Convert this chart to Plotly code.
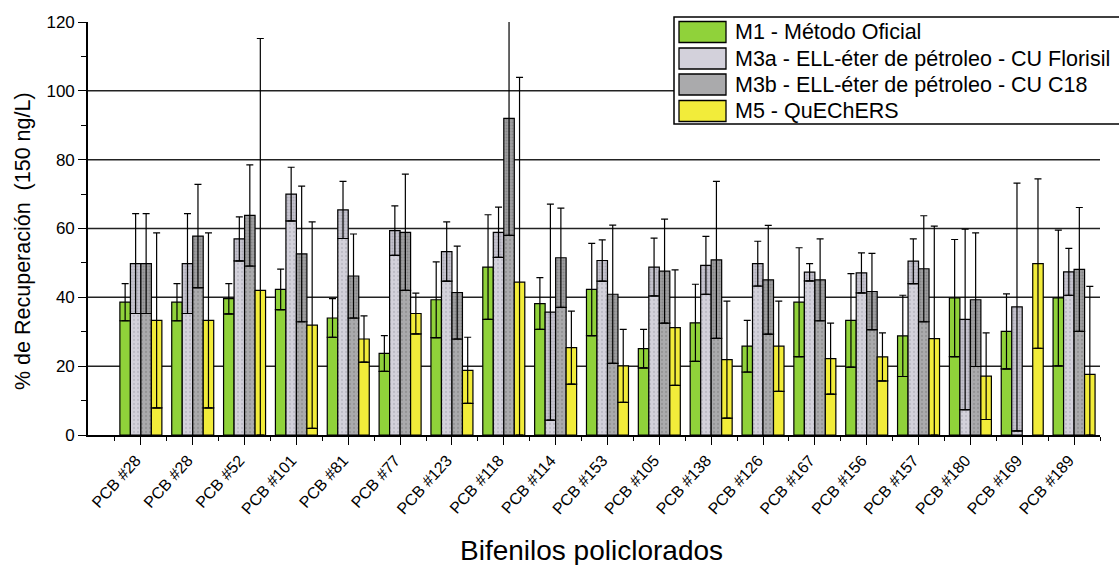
import plotly.graph_objects as go

# ---------------- data ----------------
categories = ["PCB #28", "PCB #28", "PCB #52", "PCB #101", "PCB #81", "PCB #77",
              "PCB #123", "PCB #118", "PCB #114", "PCB #153", "PCB #105", "PCB #138",
              "PCB #126", "PCB #167", "PCB #156", "PCB #157", "PCB #180", "PCB #169",
              "PCB #189"]

m1 = [38.6, 38.6, 39.6, 42.3, 34.0, 23.7, 39.3, 48.8, 38.2, 42.3, 25.1, 32.6,
      25.8, 38.6, 33.3, 28.8, 39.8, 30.1, 39.8]
m1_err = [5.4, 5.4, 4.4, 5.9, 5.6, 5.2, 11.0, 15.2, 7.5, 13.4, 5.6, 11.2,
          7.5, 15.8, 13.6, 11.8, 17.0, 10.9, 19.7]

m3a = [49.8, 49.8, 57.0, 70.0, 65.4, 59.4, 53.3, 58.9, 35.7, 50.7, 48.8, 49.3,
       49.8, 47.3, 47.1, 50.5, 33.6, 37.2, 47.4]
m3a_err = [14.5, 14.5, 6.4, 7.8, 8.3, 7.2, 8.6, 7.3, 31.4, 6.0, 8.4, 8.4,
           6.5, 2.5, 5.8, 6.5, 26.2, 36.0, 6.8]

m3b = [49.8, 57.8, 63.8, 52.6, 46.2, 58.9, 41.4, 92.0, 51.5, 40.9, 47.6, 50.9,
       45.1, 45.1, 41.7, 48.3, 39.3, None, 48.1]
m3b_err = [14.5, 15.0, 14.7, 19.7, 12.2, 16.9, 13.5, 34.0, 14.4, 20.1, 15.1, 22.8,
           15.8, 11.9, 11.1, 15.4, 19.4, None, 18.0]

m5 = [33.3, 33.3, 42.0, 31.9, 27.9, 35.3, 18.8, 44.4, 25.4, 20.1, 31.2, 21.9,
      25.8, 22.2, 22.7, 28.0, 17.1, 49.8, 17.6]
m5_err = [25.4, 25.4, 73.2, 30.0, 6.7, 5.9, 9.6, 59.5, 10.6, 10.6, 16.8, 17.0,
          13.1, 10.3, 7.0, 32.7, 12.6, 24.6, 25.6]

series_names = ["M1 - Método Oficial",
                "M3a - ELL-éter de pétroleo - CU Florisil",
                "M3b - ELL-éter de pétroleo - CU C18",
                "M5 - QuEChERS"]

y_ticks = [0, 20, 40, 60, 80, 100, 120]
grid_vals = [20, 40, 60, 80, 100]

x_title = "Bifenilos policlorados"
y_title = "% de Recuperación \u00a0(150 ng/L)"

# ---------------- styling ----------------
FONT = "Arial, Liberation Sans, sans-serif"
W, H = 1119, 565
ML, MR, MT, MB = 88, 19, 22, 130

styles = [
    dict(color="#90D23A", pattern=None, top_pattern=None),
    dict(color="#D3D1DB",
         pattern=dict(shape=".", fgcolor="#A6A5B0", bgcolor="#D3D1DB", size=4, solidity=0.25),
         top_pattern=dict(shape=".", fgcolor="#8E8D98", bgcolor="#C6C4CF", size=3, solidity=0.35)),
    dict(color="#AAAAAC",
         pattern=dict(shape=".", fgcolor="#7E7E80", bgcolor="#AAAAAC", size=4, solidity=0.25),
         top_pattern=dict(shape=".", fgcolor="#6A6A6C", bgcolor="#9E9EA0", size=3, solidity=0.35)),
    dict(color="#F2EC3A", pattern=None, top_pattern=None),
]

positions = list(range(len(categories)))
values = [m1, m3a, m3b, m5]
errors = [m1_err, m3a_err, m3b_err, m5_err]

fig = go.Figure()

for k, (vals, errs, name, st) in enumerate(zip(values, errors, series_names, styles)):
    lower = [None if v is None else max(v - e, 0.0) for v, e in zip(vals, errs)]
    upper = [None if v is None else v - lo for v, lo in zip(vals, lower)]
    line = dict(color="black", width=1.2)
    mk_low = dict(color=st["color"], line=line)
    mk_top = dict(color=st["color"], line=line)
    if st["pattern"]:
        mk_low["pattern"] = st["pattern"]
        mk_top["pattern"] = st["top_pattern"]
    fig.add_trace(go.Bar(
        x=positions, y=lower, offsetgroup=str(k), marker=mk_low,
        name=name, showlegend=False, hoverinfo="skip"))
    fig.add_trace(go.Bar(
        x=positions, y=upper, base=lower, offsetgroup=str(k), marker=mk_top,
        name=name, showlegend=False,
        error_y=dict(type="data", array=errs, arrayminus=upper, symmetric=False,
                     color="black", thickness=1.2, width=3.5)))

fig.update_layout(
    width=W, height=H,
    margin=dict(l=ML, r=MR, t=MT, b=MB),
    paper_bgcolor="white", plot_bgcolor="white",
    barmode="group", bargap=0.19, bargroupgap=0.0,
    font=dict(family=FONT, color="black"),
    showlegend=False,
)

fig.update_xaxes(
    range=[-1.02, 18.5],
    tickmode="array", tickvals=positions, ticktext=categories,
    tickangle=-48, tickfont=dict(size=16, family=FONT, color="black"),
    ticklabelshift=-5,
    ticks="outside", ticklen=8, tickwidth=1.3, tickcolor="black",
    minor=dict(tickmode="linear", tick0=0.5, dtick=1, ticks="outside",
               ticklen=4, tickwidth=1.3, tickcolor="black"),
    showline=True, linecolor="black", linewidth=1.6,
    showgrid=False, zeroline=False, automargin=False,
)

fig.update_yaxes(
    range=[0, 120], tickmode="array", tickvals=y_ticks,
    tickfont=dict(size=17, family=FONT, color="black"),
    ticks="outside", ticklen=8, tickwidth=1.3, tickcolor="black",
    minor=dict(tickmode="linear", tick0=0, dtick=10, ticks="outside",
               ticklen=5, tickwidth=1.3, tickcolor="black"),
    showline=True, linecolor="black", linewidth=1.6,
    showgrid=False, zeroline=False, automargin=False,
)

# horizontal grid lines (no line at the top limit)
for gv in grid_vals:
    fig.add_shape(type="line", xref="paper", x0=0, x1=1, yref="y", y0=gv, y1=gv,
                  line=dict(color="#222222", width=1.5), layer="below")


def px(x):
    return (x - ML) / (W - ML - MR)


def py(y):
    return (H - MB - y) / (H - MT - MB)


# custom legend box
fig.add_shape(type="rect", xref="paper", yref="paper",
              x0=px(674), x1=px(1124), y0=py(124), y1=py(17),
              line=dict(color="black", width=1.5), fillcolor="white", layer="above")
row_centers = [32, 58.5, 84.5, 111]
for (st, name, yc) in zip(styles, series_names, row_centers):
    fig.add_shape(type="rect", xref="paper", yref="paper",
                  x0=px(679), x1=px(726), y0=py(yc + 10.5), y1=py(yc - 10.5),
                  line=dict(color="black", width=1.3), fillcolor=st["color"], layer="above")
    fig.add_annotation(xref="paper", yref="paper", x=px(733), y=py(yc),
                       text=name, showarrow=False, xanchor="left", yanchor="middle",
                       font=dict(size=21.5, family=FONT, color="black"))

# axis titles
fig.add_annotation(xref="paper", yref="paper", x=px(591), y=py(550),
                   text=x_title, showarrow=False, xanchor="center", yanchor="middle",
                   font=dict(size=28, family=FONT, color="black"))
fig.add_annotation(xref="paper", yref="paper", x=px(23), y=py(241),
                   text=y_title, textangle=-90, showarrow=False,
                   xanchor="center", yanchor="middle",
                   font=dict(size=21.5, family=FONT, color="black"))

fig.write_html("out.html", config={"displayModeBar": False},
               post_script="document.body.style.margin='0';document.body.style.padding='0';")
